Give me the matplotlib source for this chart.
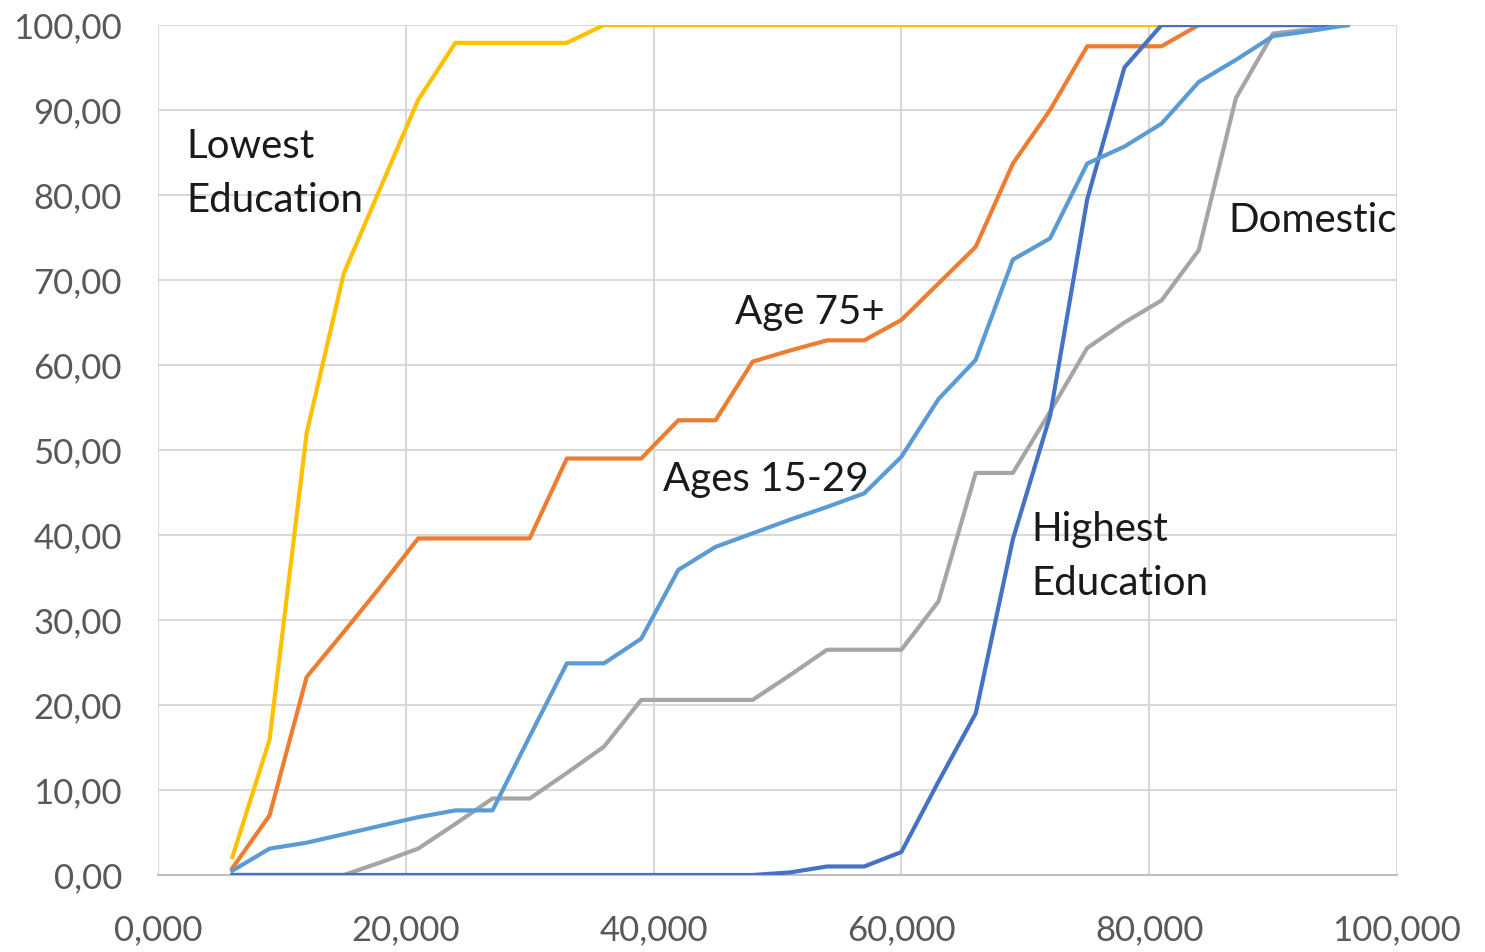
import matplotlib
matplotlib.use("Agg")
from matplotlib import pyplot as plt
from matplotlib.ticker import FuncFormatter
import numpy as np

plt.rcParams['font.family'] = ['Lato', 'DejaVu Sans']

# thresholds (thousands), one point every 3
x = [6, 9, 12, 15, 18, 21, 24, 27, 30, 33, 36, 39, 42, 45, 48, 51,
     54, 57, 60, 63, 66, 69, 72, 75, 78, 81, 84, 87, 90, 93, 96]

lowest_edu = [2.1, 15.9, 52.0, 70.8, 81.0, 91.2, 97.9, 97.9, 97.9, 97.9, 100, 100, 100, 100, 100, 100,
              100, 100, 100, 100, 100, 100, 100, 100, 100, 100, 100, 100, 100, 100, 100]
age_75 = [0.8, 7.0, 23.3, 28.6, 34.0, 39.6, 39.6, 39.6, 39.6, 49.0, 49.0, 49.0, 53.5, 53.5, 60.4, 61.7,
          62.9, 62.9, 65.3, 69.6, 73.9, 83.7, 90.0, 97.5, 97.5, 97.5, 100, 100, 100, 100, 100]
ages_15_29 = [0.5, 3.1, 3.8, 4.8, 5.8, 6.8, 7.6, 7.6, 16.3, 24.9, 24.9, 27.8, 35.9, 38.6, 40.2, 41.8,
              43.3, 44.9, 49.2, 56.0, 60.6, 72.4, 74.9, 83.7, 85.7, 88.4, 93.3, 95.9, 98.7, 99.3, 100]
domestic = [0, 0, 0, 0, 1.5, 3.1, 6.0, 9.0, 9.0, 12.0, 15.1, 20.6, 20.6, 20.6, 20.6, 23.5,
            26.5, 26.5, 26.5, 32.2, 47.3, 47.3, 54.5, 62.0, 65.0, 67.6, 73.5, 91.4, 99.0, 99.5, 100]
highest_edu = [0, 0, 0, 0, 0, 0, 0, 0, 0, 0, 0, 0, 0, 0, 0, 0.3,
               1.0, 1.0, 2.7, 11.0, 19.0, 39.5, 54.0, 79.5, 95.0, 100, 100, 100, 100, 100, 100]

fig = plt.figure(figsize=(14.85, 9.52), dpi=100)
ax = fig.add_axes([0.1064, 0.0809, 0.8343, 0.8928])

lw = 3.0
ax.plot(x, lowest_edu, color='#FFC000', lw=lw, zorder=3, solid_joinstyle='round')
ax.plot(x, age_75, color='#ED7D31', lw=lw, zorder=4, solid_joinstyle='round')
ax.plot(x, domestic, color='#A5A5A5', lw=lw, zorder=5, solid_joinstyle='round')
ax.plot(x, highest_edu, color='#4472C4', lw=lw, zorder=6, solid_joinstyle='round')
ax.plot(x, ages_15_29, color='#5B9BD5', lw=lw, zorder=7, solid_joinstyle='round')

ax.set_xlim(0, 100)
ax.set_ylim(0, 100)
ax.set_xticks(np.arange(0, 101, 20))
ax.set_yticks(np.arange(0, 101, 10))
ax.xaxis.set_major_formatter(FuncFormatter(lambda v, p: f"{v:.3f}".replace('.', ',')))
ax.yaxis.set_major_formatter(FuncFormatter(lambda v, p: f"{v:.2f}".replace('.', ',')))

ax.grid(True, color='#D9D9D9', lw=1.5, zorder=0)
for s in ['top', 'right', 'left']:
    ax.spines[s].set_visible(False)
ax.spines['bottom'].set_color('#BFBFBF')
ax.spines['bottom'].set_linewidth(1.5)
ax.tick_params(length=0, labelsize=25, labelcolor='#595959')
ax.tick_params(axis='x', pad=28)
ax.tick_params(axis='y', pad=26)

txt = dict(fontsize=29, color='#1a1a1a', va='center', ha='left', zorder=10)
ax.text(2.3, 82.5, "Lowest\nEducation", linespacing=1.58, **txt)
ax.text(46.6, 66.2, "Age 75+", **txt)
ax.text(40.8, 46.5, "Ages 15-29", **txt)
ax.text(70.5, 37.5, "Highest\nEducation", linespacing=1.58, **txt)
ax.text(86.4, 77.0, "Domestic", **txt)

fig.savefig("out.png", dpi=100)
